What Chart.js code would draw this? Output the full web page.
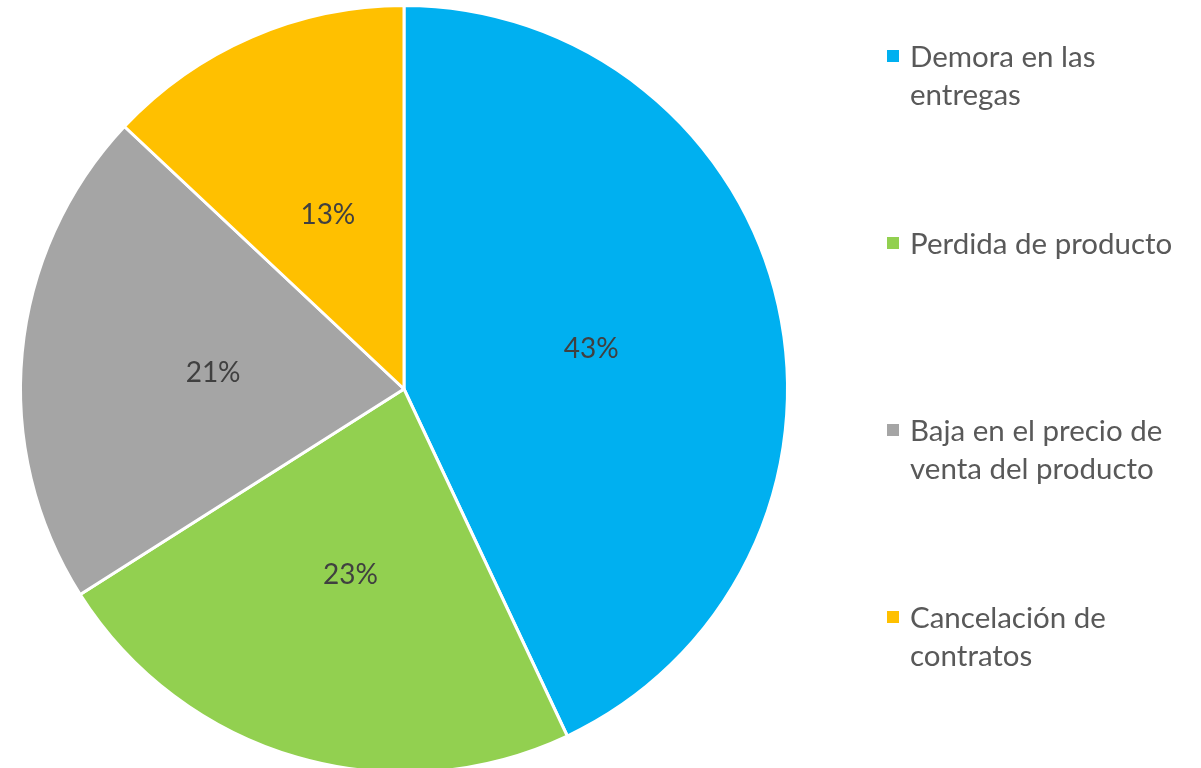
<!DOCTYPE html>
<html>
<head>
<meta charset="utf-8">
<script src="https://cdn.jsdelivr.net/npm/chart.js@4"></script>
<style>
  html, body { margin: 0; padding: 0; background: #fff; overflow: hidden; }
  body { width: 1201px; height: 768px; position: relative; }
  #pie-wrap { position: absolute; left: 0; top: 0; width: 808px; height: 778px; }
  #legend { position: absolute; left: 0; top: 0; width: 1201px; height: 768px; pointer-events: none; }
  .leg-item { position: absolute; left: 887px; width: 310px; font-family: Lato, sans-serif; font-size: 29.5px; line-height: 38px; color: #595959; }
  .leg-box { position: absolute; left: 0; top: 13px; width: 12px; height: 12px; }
  .leg-text { position: absolute; left: 23px; top: 0; white-space: nowrap; }
</style>
</head>
<body>
<div id="pie-wrap"><canvas id="pie"></canvas></div>
<div id="legend"></div>
<script>
'use strict';

// ─── Data ─────────────────────────────────────────────────────────────────────
const categories = ['Demora en las entregas', 'Perdida de producto', 'Baja en el precio de venta del producto', 'Cancelación de contratos'];
const legendLines = [['Demora en las', 'entregas'], ['Perdida de producto'], ['Baja en el precio de', 'venta del producto'], ['Cancelación de', 'contratos']];
const shares     = [43, 23, 21, 13];
const colors     = ['#00B0F0', '#92D050', '#A5A5A5', '#FFC000'];

// ─── Slice labels (percentages at arc centroid) ───────────────────────────────
const sliceLabels = {
  id: 'sliceLabels',
  afterDatasetsDraw(chart) {
    const { ctx } = chart;
    const meta = chart.getDatasetMeta(0);
    ctx.save();
    ctx.font = '28px Lato, sans-serif';
    ctx.fillStyle = '#404040';
    ctx.textAlign = 'center';
    ctx.textBaseline = 'middle';
    meta.data.forEach((arc, i) => {
      const p = arc.tooltipPosition();
      ctx.fillText(shares[i] + '%', p.x, p.y + 2);
    });
    ctx.restore();
  },
};

new Chart(document.getElementById('pie').getContext('2d'), {
  type: 'pie',
  data: {
    labels: categories,
    datasets: [{
      data:            shares,
      backgroundColor: colors,
      borderColor:     '#ffffff',
      borderWidth:     3,
    }],
  },
  options: {
    responsive:          true,
    maintainAspectRatio: false,
    animation:           false,
    layout: { padding: 4 },
    plugins: {
      legend:  { display: false },
      tooltip: { enabled: false },
    },
  },
  plugins: [sliceLabels],
});

// ─── HTML legend ──────────────────────────────────────────────────────────────
const legendEl = document.getElementById('legend');
legendLines.forEach((lines, i) => {
  const item = document.createElement('div');
  item.className = 'leg-item';
  item.style.top = (37 + 187 * i) + 'px';
  item.innerHTML =
    `<span class="leg-box" style="background:${colors[i]}"></span>` +
    `<span class="leg-text">${lines.join('<br>')}</span>`;
  legendEl.appendChild(item);
});
</script>
</body>
</html>
